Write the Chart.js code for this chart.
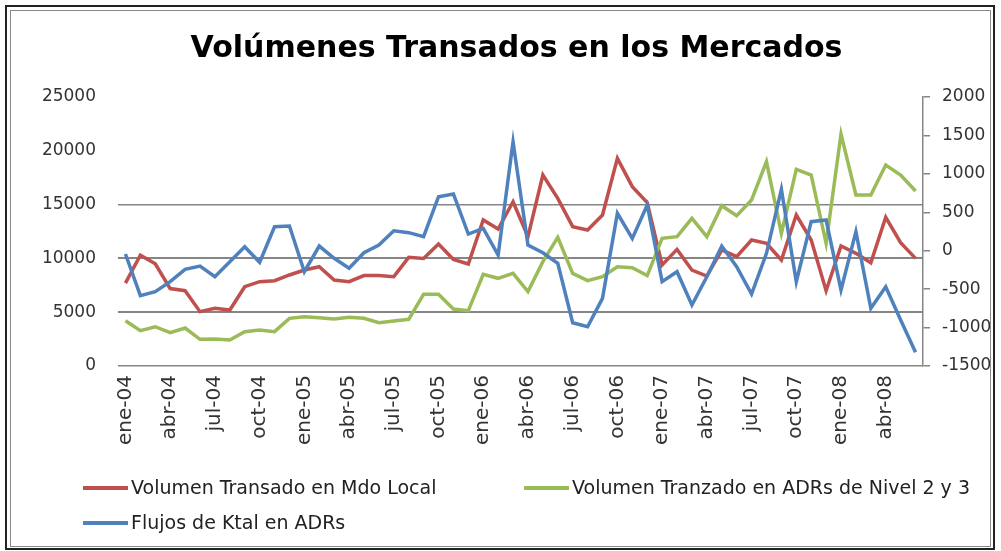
<!DOCTYPE html>
<html>
<head>
<meta charset="utf-8">
<script src="https://cdn.jsdelivr.net/npm/chart.js@4.4.1/dist/chart.umd.min.js"></script>
<style>
  html, body { margin: 0; padding: 0; background: #fff; }
  #wrap { position: relative; width: 1001px; height: 551px; overflow: hidden; background: #fff; }
  #c { position: absolute; left: 0; top: 0; }
  .frame { position: absolute; left: 5px; top: 5px; width: 986px; height: 541px; border: 2px solid #222; pointer-events: none; }
  .frame2 { position: absolute; left: 10px; top: 10px; width: 979px; height: 535px; border: 1px solid #888; pointer-events: none; }
  #title { position: absolute; left: 16px; width: 1001px; top: 29px; text-align: center; font-family: "DejaVu Sans", sans-serif; font-weight: bold; font-size: 30px; color: #000; }
  .leg { position: absolute; font-family: "DejaVu Sans", sans-serif; font-size: 19px; color: #222; white-space: nowrap; }
  .sw { position: absolute; height: 4px; width: 45px; }
</style>
</head>
<body>
<div id="wrap">
  <canvas id="c" width="1001" height="551"></canvas>
  <div class="frame"></div>
  <div class="frame2"></div>
  <div id="title">Volúmenes Transados en los Mercados</div>
  <div class="sw" style="left:83px; top:486px; background:#C0504D"></div>
  <div class="leg" style="left:131px; top:476px">Volumen Transado en Mdo Local</div>
  <div class="sw" style="left:524px; top:486px; background:#9BBB59"></div>
  <div class="leg" style="left:572px; top:476px">Volumen Tranzado en ADRs de Nivel 2 y 3</div>
  <div class="sw" style="left:83px; top:521px; background:#4F81BD"></div>
  <div class="leg" style="left:131px; top:511px">Flujos de Ktal en ADRs</div>
</div>
<script>
const months = [
  "ene-04","feb-04","mar-04","abr-04","may-04","jun-04","jul-04","ago-04","sep-04","oct-04","nov-04","dic-04",
  "ene-05","feb-05","mar-05","abr-05","may-05","jun-05","jul-05","ago-05","sep-05","oct-05","nov-05","dic-05",
  "ene-06","feb-06","mar-06","abr-06","may-06","jun-06","jul-06","ago-06","sep-06","oct-06","nov-06","dic-06",
  "ene-07","feb-07","mar-07","abr-07","may-07","jun-07","jul-07","ago-07","sep-07","oct-07","nov-07","dic-07",
  "ene-08","feb-08","mar-08","abr-08","may-08","jun-08"
];
const volLocal = [7700,10300,9500,7200,7000,5050,5360,5200,7370,7840,7930,8460,8920,9230,
  7990,7840,8400,8400,8300,10100,10000,11340,9900,9480,13570,12730,15270,
  12020,17750,15580,12950,12640,14030,19300,16670,15180,9390,10840,8920,8360,
  10780,10160,11710,11400,9850,14030,11710,7000,11150,10470,9600,13820,11460,10000];
const volADR = [4210,3280,3650,3100,3530,2480,2510,2420,3190,3350,3190,4430,4580,4490,
  4370,4520,4430,4030,4180,4340,6660,6660,5300,5140,8520,8150,8610,
  6910,9700,11960,8610,7930,8300,9230,9140,8400,11860,12020,13720,12020,
  14900,13970,15430,18990,12330,18280,17750,11400,21560,15890,15890,18680,17750,16260];
const flujos = [-43,-585,-533,-403,-242,-199,-338,-143,52,-151,312,322,-273,61,
  -99,-229,-26,74,260,235,183,703,738,217,291,-56,1418,
  74,-26,-164,-937,-989,-620,487,161,595,-403,-273,-706,-338,
  61,-208,-563,-34,799,-403,378,400,-511,248,-749,-468,-902,-1322];
const leftTicks = [0,5000,10000,15000,20000,25000];
const rightTicks = [-1500,-1000,-500,0,500,1000,1500,2000];

const tickFont = { family: "DejaVu Sans", size: 17 };

new Chart(document.getElementById('c'), {
  type: 'line',
  data: {
    labels: months,
    datasets: [
      { label: 'Flujos de Ktal en ADRs', data: flujos, yAxisID: 'y1', borderColor: '#4F81BD', backgroundColor: '#4F81BD', borderWidth: 3.5, pointRadius: 0, tension: 0, order: 0 },
      { label: 'Volumen Tranzado en ADRs de Nivel 2 y 3', data: volADR, yAxisID: 'y', borderColor: '#9BBB59', backgroundColor: '#9BBB59', borderWidth: 3.5, pointRadius: 0, tension: 0, order: 1 },
      { label: 'Volumen Transado en Mdo Local', data: volLocal, yAxisID: 'y', borderColor: '#C0504D', backgroundColor: '#C0504D', borderWidth: 3.5, pointRadius: 0, tension: 0, order: 2 }
    ]
  },
  options: {
    responsive: false,
    animation: false,
    events: [],
    layout: { padding: { left: 0, right: 0, top: 97, bottom: 0 } },
    plugins: { legend: { display: false }, title: { display: false }, tooltip: { enabled: false } },
    scales: {
      x: {
        type: 'category',
        offset: true,
        grid: { display: false, drawTicks: false },
        border: { display: false },
        ticks: {
          autoSkip: false, maxRotation: 90, minRotation: 90, padding: 9,
          color: '#333', font: { family: "DejaVu Sans", size: 20 },
          callback: function(v, i) { return i % 3 === 0 ? months[i] : ''; }
        },
        afterFit: function(s) { s.height = 185; }
      },
      y: {
        position: 'left', min: 0, max: 25000,
        afterBuildTicks: function(s) { s.ticks = leftTicks.map(v => ({ value: v })); },
        grid: {
          drawTicks: false,
          color: function(ctx) { return (ctx.tick && ctx.tick.value <= 15000) ? '#858585' : 'rgba(0,0,0,0)'; },
          lineWidth: function(ctx) { return (ctx.tick && (ctx.tick.value === 5000 || ctx.tick.value === 10000)) ? 2 : 1.5; }
        },
        border: { display: false },
        ticks: { padding: 22, color: '#333', font: tickFont, callback: function(v) { return String(v); } },
        afterFit: function(s) { s.width = 118; }
      },
      y1: {
        position: 'right', min: -1500, max: 2000,
        afterBuildTicks: function(s) { s.ticks = rightTicks.map(v => ({ value: v })); },
        grid: { drawOnChartArea: false, drawTicks: true, tickLength: 7, color: '#858585', lineWidth: 1.5 },
        border: { display: true, color: '#858585', width: 1.5 },
        ticks: { padding: 12, color: '#333', font: tickFont, callback: function(v) { return String(v); } },
        afterFit: function(s) { s.width = 78; }
      }
    }
  }
});
</script>
</body>
</html>
